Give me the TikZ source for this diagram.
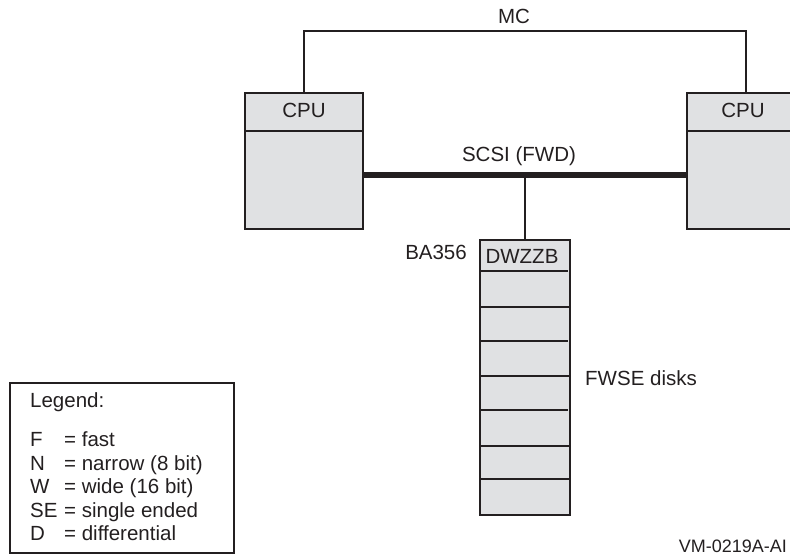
\documentclass[tikz,border=0pt]{standalone}
\usepackage{fontspec}
\setmainfont{Liberation Sans}
\definecolor{ink}{RGB}{35,31,32}
\definecolor{boxfill}{RGB}{224,225,227}
\begin{document}
\begin{tikzpicture}[x=1pt,y=-1pt,
  unitbox/.style={draw=ink, fill=boxfill, line width=1.8pt, inner sep=0pt},
  legbox/.style={draw=ink, line width=1.5pt, inner sep=0pt},
  divider/.style={draw=ink, line width=1.6pt},
  thinline/.style={draw=ink, line width=1.4pt},
  bus/.style={draw=ink, line width=5.5pt},
  txt/.style={inner sep=0pt, anchor=base, text=ink, font=\fontsize{20.5}{24}\selectfont},
  smalltxt/.style={inner sep=0pt, anchor=base east, text=ink, font=\fontsize{18}{21}\selectfont}]
\clip (0,0) rectangle (790,556);
\useasboundingbox (0,0) rectangle (790,556);

% CPUs
\node[unitbox, minimum width=118, minimum height=136] (cpuL) at (304,161) {};
\node[unitbox, minimum width=118, minimum height=136] (cpuR) at (746,161) {};
\draw[divider] ([yshift=-39pt]cpuL.north west) -- ([yshift=-39pt]cpuL.north east);
\draw[divider] ([yshift=-39pt]cpuR.north west) -- ([yshift=-39pt]cpuR.north east);
\node[txt] (cpuLlbl) at (304,117.5) {CPU};
\node[txt] (cpuRlbl) at (743,117.5) {CPU};

% MC
\coordinate (mc) at (524,31);
\draw[thinline] (cpuL.north) |- (mc) -| (cpuR.north);
\node[txt] (mclbl) at (514,24) {MC};

% SCSI bus
\coordinate (tap) at (525,175);
\draw[bus] (cpuL.east |- tap) -- (cpuR.west |- tap);
\node[txt] (scsilbl) at (519,162) {SCSI (FWD)};

% BA356 stack
\node[unitbox, minimum width=90, minimum height=275] (ba) at (525,377.5) {};
\draw[thinline] (tap) -- (ba.north);
\foreach \d/\s in {32/3, 68/0, 102/3, 137/0, 171/3, 207/0, 240/0}
  \draw[divider] ([yshift=-\d pt]ba.north west) -- ([yshift=-\d pt, xshift=-\s pt]ba.north east);
\node[txt] (dwzzb) at (522,263) {DWZZB};
\node[txt, anchor=base east] (balbl) at (467,260) {BA356};
\node[txt, anchor=base west] (fwse) at (585,385) {FWSE disks};

% Legend
\node[legbox, minimum width=224, minimum height=170] (leg) at (122,468) {};
\node[txt, anchor=base west] (legt) at (30,407) {Legend:};
\node[txt, anchor=base west] (lF) at (30,446.5) {F};
\node[txt, anchor=base west] (lFt) at (64,446.5) {= fast};
\node[txt, anchor=base west] (lN) at (30,470) {N};
\node[txt, anchor=base west] (lNt) at (64,470) {= narrow (8 bit)};
\node[txt, anchor=base west] (lW) at (30,493.5) {W};
\node[txt, anchor=base west] (lWt) at (64,493.5) {= wide (16 bit)};
\node[txt, anchor=base west] (lSE) at (30,517) {SE};
\node[txt, anchor=base west] (lSEt) at (64,517) {= single ended};
\node[txt, anchor=base west] (lD) at (30,540.5) {D};
\node[txt, anchor=base west] (lDt) at (64,540.5) {= differential};

\node[smalltxt] (vm) at (787,552) {VM-0219A-AI};
\end{tikzpicture}
\end{document}
